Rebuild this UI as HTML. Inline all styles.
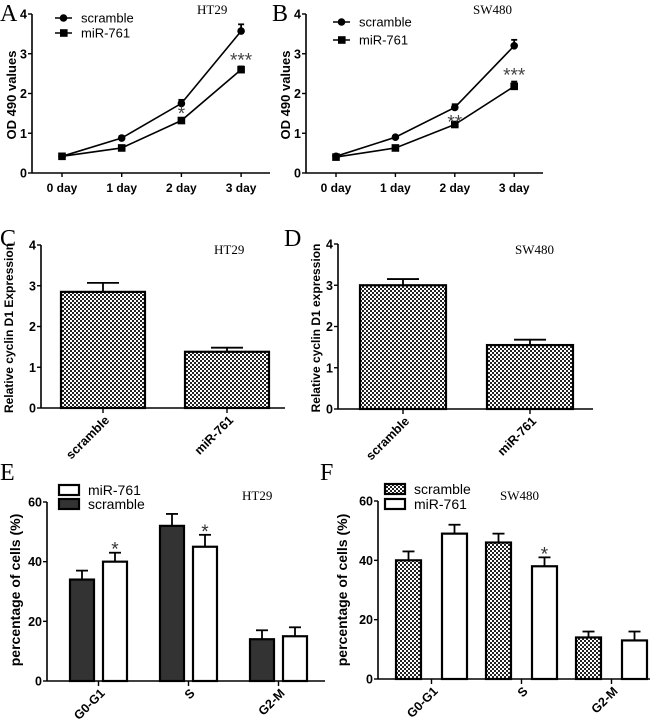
<!DOCTYPE html>
<html><head><meta charset="utf-8"><style>
html,body{margin:0;padding:0;background:#fff;width:650px;height:723px;overflow:hidden}
svg text{font-family:"Liberation Sans",Arial,sans-serif}
.ser{font-family:"Liberation Serif","Times New Roman",serif}
</style></head><body>
<svg id="fig" width="650" height="723" viewBox="0 0 650 723" xmlns="http://www.w3.org/2000/svg">
<defs>
<pattern id="chk" width="4" height="4" patternUnits="userSpaceOnUse">
<rect width="4" height="4" fill="#fff"/><rect width="2" height="2" fill="#222"/><rect x="2" y="2" width="2" height="2" fill="#222"/>
</pattern>
</defs>
</svg>
<script>
// ---- Data ----
const dayCats = ["0 day","1 day","2 day","3 day"];
const aScramble = [0.42,0.88,1.75,3.57];
const aScrambleErr = [0.03,0.05,0.09,0.17];
const aMir = [0.42,0.63,1.32,2.6];
const aMirErr = [0.03,0.03,0.06,0.08];
const aStars = ["","","*","***"];
const bScramble = [0.42,0.9,1.65,3.2];
const bScrambleErr = [0.03,0.03,0.08,0.15];
const bMir = [0.4,0.63,1.22,2.18];
const bMirErr = [0.03,0.03,0.05,0.12];
const bStars = ["","","**","***"];
const lineTicks = [0,1,2,3,4];

const cdCats = ["scramble","miR-761"];
const cValues = [2.85,1.38];
const cErr = [0.22,0.1];
const dValues = [3.0,1.55];
const dErr = [0.15,0.13];
const cdTicks = [0,1,2,3,4];

const phaseCats = ["G0-G1","S","G2-M"];
const eScramble = [34,52,14];
const eScrambleErr = [3,4,3];
const eMir = [40,45,15];
const eMirErr = [3,4,3];
const eStars = ["*","*",""];
const fScramble = [40,46,14];
const fScrambleErr = [3,3,2];
const fMir = [49,38,13];
const fMirErr = [3,3,3];
const fStars = ["","*",""];
const pctTicks = [0,20,40,60];

// ---- Helpers ----
const NS="http://www.w3.org/2000/svg";
const svg=document.getElementById('fig');
function mk(tag,attrs,parent,txt){const e=document.createElementNS(NS,tag);for(const k in attrs)e.setAttribute(k,attrs[k]);if(txt!==undefined)e.textContent=txt;(parent||svg).appendChild(e);return e;}
function grp(name,parent){const g=mk('g',{},parent);return g;}
function txt(parent,name,x,y,s,attrs){const t=mk('text',Object.assign({x:x,y:y},attrs||{}),parent,s);return t;}

function axes(g,L){
  const ys=v=>L.y0-(v-L.vmin)/(L.vmax-L.vmin)*(L.y0-L.y1);
  const ax=grp('axes',g);
  const yl=mk('line',{x1:L.ax,y1:L.y0,x2:L.ax,y2:L.y1,stroke:'#000','stroke-width':1.6},ax);
  
  const xl=mk('line',{x1:L.ax,y1:L.y0,x2:L.xend,y2:L.y0,stroke:'#000','stroke-width':1.6},ax);
  
  L.ticks.forEach(v=>{
    mk('line',{x1:L.ax-4,y1:ys(v),x2:L.ax,y2:ys(v),stroke:'#000','stroke-width':1.4},ax);
    txt(ax,'y-tick-label',L.ax-5,ys(v)+4.5,String(v),{'text-anchor':'end','font-size':12.5,'font-weight':'bold'});
  });
  txt(g,'y-axis-title',L.ytx,L.tyc,L.ytitle,{'text-anchor':'middle','font-size':L.ytfs||12,'font-weight':'bold',transform:`rotate(-90 ${L.ytx} ${L.tyc})`});
  return ys;
}
function letter(x,y,s){txt(svg,'panel-label-'+s.toLowerCase(),x,y,s,{'font-size':24,class:'ser'});}
function title(g,x,y,s){txt(g,'cell-line-title',x,y,s,{'font-size':13,class:'ser'});}
function errbar(g,x,yv,ye,w){mk('line',{x1:x,y1:yv,x2:x,y2:ye,stroke:'#000','stroke-width':1.8},g);mk('line',{x1:x-w,y1:ye,x2:x+w,y2:ye,stroke:'#000','stroke-width':1.8},g);}
function rotLabel(g,cx,y0,c){txt(g,'x-tick-label',cx+7,y0+13,c,{'text-anchor':'end','font-size':12.5,'font-weight':'bold',transform:`rotate(-45 ${cx+7} ${y0+13})`});}

function lineChart(name,L,cats,s1,e1,s2,e2,stars){
  const g=grp(name);
  const ys=axes(g,L);
  const xs=i=>L.x0+i*L.dx;
  cats.forEach((c,i)=>{
    mk('line',{x1:xs(i),y1:L.y0,x2:xs(i),y2:L.y0+4,stroke:'#000','stroke-width':1.4},g);
    txt(g,'x-tick-label',xs(i),L.y0+19,c,{'text-anchor':'middle','font-size':12,'font-weight':'bold'});
  });
  [[s1,e1,'scramble'],[s2,e2,'miR-761']].forEach(([s,e,nm],k)=>{
    const sg=grp('series-'+nm,g);
    const p=mk('polyline',{points:s.map((v,i)=>xs(i)+','+ys(v)).join(' '),fill:'none',stroke:'#000','stroke-width':1.6},sg);
    
    s.forEach((v,i)=>{
      errbar(sg,xs(i),ys(v),ys(v+e[i]),3);
      let m;
      if(k===0)m=mk('circle',{cx:xs(i),cy:ys(v),r:3.8,fill:'#000'},sg);
      else m=mk('rect',{x:xs(i)-3.8,y:ys(v)-3.8,width:7.6,height:7.6,fill:'#000'},sg);
      
    });
  });
  stars.forEach((s,i)=>{if(s)txt(g,'significance-stars',xs(i),ys(s2[i]+e2[i])-L.sOff[i]+4,s,{'text-anchor':'middle','font-size':19,fill:'#444'});});
  const lg=grp('legend',g);
  [['scramble',0],['miR-761',1]].forEach(([nm,k])=>{
    const y=L.lgy+k*L.lgdy;
    const e=grp('legend-entry',lg);
    mk('line',{x1:L.lgx,y1:y,x2:L.lgx+17,y2:y,stroke:'#000','stroke-width':1.6},e);
    if(k===0)mk('circle',{cx:L.lgx+8.5,cy:y,r:3.8},e);else mk('rect',{x:L.lgx+5,y:y-3.8,width:7.6,height:7.6},e);
    txt(e,'legend-label',L.lgx+26,y+4.5,nm,{'font-size':13});
  });
  title(g,L.tx,L.ty,L.title);
}

function barChart(name,L,cats,vals,errs){
  const g=grp(name);
  const ys=axes(g,L);
  cats.forEach((c,i)=>{
    const x=L.bx[i],w=L.bw,cx=x+w/2;
    errbar(g,cx,ys(vals[i]),ys(vals[i]+errs[i]),16);
    const r=mk('rect',{x:x,y:ys(vals[i]),width:w,height:ys(0)-ys(vals[i]),fill:'url(#chk)',stroke:'#000','stroke-width':2.2},g);
    
    mk('line',{x1:cx,y1:L.y0,x2:cx,y2:L.y0+5,stroke:'#000','stroke-width':1.4},g);
    rotLabel(g,cx,L.y0,c);
  });
  title(g,L.tx,L.ty,L.title);
}

function groupChart(name,L,cats,s1,e1,s2,e2,stars,fill1,legendOrder){
  const g=grp(name);
  const ys=axes(g,L);
  cats.forEach((c,i)=>{
    const base=L.gx+i*L.gdx;
    [[s1,e1,fill1,'scramble',0],[s2,e2,'#fff','miR-761',1]].forEach(([s,e,f,nm,k])=>{
      const x=base+k*L.off,cx=x+L.bw/2;
      errbar(g,cx,ys(s[i]),ys(s[i]+e[i]),6);
      const r=mk('rect',{x:x,y:ys(s[i]),width:L.bw,height:ys(0)-ys(s[i]),fill:f,stroke:'#000','stroke-width':2.2},g);
      
      if(k===1&&stars[i])txt(g,'significance-star',cx,ys(s[i]+e[i])+3,stars[i],{'text-anchor':'middle','font-size':19,fill:'#333'});
    });
    const cx=base+(L.off+L.bw)/2;
    mk('line',{x1:cx,y1:L.y0,x2:cx,y2:L.y0+5,stroke:'#000','stroke-width':1.4},g);
    rotLabel(g,cx,L.y0,c);
  });
  const lg=grp('legend',g);
  legendOrder.forEach((nm,k)=>{
    const y=L.lgy+k*L.lgdy;
    const e=grp('legend-entry',lg);
    mk('rect',{x:L.lgx,y:y-5,width:20,height:10,fill:nm==='scramble'?fill1:'#fff',stroke:'#000','stroke-width':2.2},e);
    txt(e,'legend-label',L.lgx+29,y+5,nm,{'font-size':14});
  });
  title(g,L.tx,L.ty,L.title);
}

// ---- Panels ----
letter(0,21,'A');letter(272,21,'B');letter(0,246,'C');letter(284,246,'D');letter(0,480,'E');letter(320,480,'F');

lineChart('panel-a-ht29-growth',{ax:32,y0:173,y1:14,vmin:0,vmax:4,xend:270,ticks:lineTicks,x0:62,dx:59.7,ytitle:'OD 490 values',ytx:16,tyc:95,ytfs:13,
 lgx:55,lgy:18,lgdy:15,tx:197,ty:14,title:'HT29',sOff:[0,0,2,4]},dayCats,aScramble,aScrambleErr,aMir,aMirErr,aStars);
lineChart('panel-b-sw480-growth',{ax:306,y0:173,y1:14,vmin:0,vmax:4,xend:543,ticks:lineTicks,x0:336,dx:59.4,ytitle:'OD 490 values',ytx:290,tyc:95,ytfs:13,
 lgx:333,lgy:22,lgdy:18,tx:473,ty:14,title:'SW480',sOff:[0,0,-2,4]},dayCats,bScramble,bScrambleErr,bMir,bMirErr,bStars);

barChart('panel-c-ht29-cyclin',{ax:41,y0:408,y1:245,vmin:0,vmax:4,xend:285,ticks:cdTicks,bx:[61,185],bw:84,ytitle:'Relative cyclin D1 Expression',ytx:13,tyc:328,ytfs:12,
 tx:214,ty:254,title:'HT29'},cdCats,cValues,cErr);
barChart('panel-d-sw480-cyclin',{ax:338,y0:409,y1:244,vmin:0,vmax:4,xend:593,ticks:cdTicks,bx:[360,487],bw:86,ytitle:'Relative cyclin D1 expression',ytx:320,tyc:328,ytfs:12,
 tx:515,ty:254,title:'SW480'},cdCats,dValues,dErr);

groupChart('panel-e-ht29-cellcycle',{ax:47,y0:681,y1:502,vmin:0,vmax:60,xend:325,ticks:pctTicks,gx:70,gdx:90,off:33,bw:24,ytitle:'percentage of cells (%)',ytx:20,tyc:590,ytfs:14,
 lgx:59,lgy:490,lgdy:14,tx:242,ty:500,title:'HT29'},phaseCats,eScramble,eScrambleErr,eMir,eMirErr,eStars,'#333',['miR-761','scramble']);
groupChart('panel-f-sw480-cellcycle',{ax:378,y0:679,y1:501,vmin:0,vmax:60,xend:650,ticks:pctTicks,gx:396,gdx:90,off:46,bw:25,ytitle:'percentage of cells (%)',ytx:347,tyc:590,ytfs:14,
 lgx:385,lgy:489,lgdy:15,tx:500,ty:500,title:'SW480'},phaseCats,fScramble,fScrambleErr,fMir,fMirErr,fStars,'url(#chk)',['scramble','miR-761']);
</script>
</body></html>
